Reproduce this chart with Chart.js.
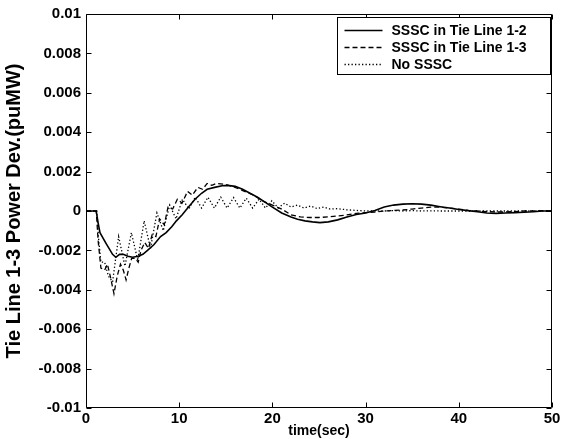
<!DOCTYPE html>
<html>
<head>
<meta charset="utf-8">
<script src="https://cdn.jsdelivr.net/npm/chart.js@4.4.1/dist/chart.umd.min.js"></script>
<style>
  html, body { margin: 0; padding: 0; background: #fff; }
  #c { display: block; }
</style>
</head>
<body>
<canvas id="c" width="576" height="439"></canvas>
<script>
// ---- data ----
const seriesLabels = ['SSSC in Tie Line 1-2', 'SSSC in Tie Line 1-3', 'No SSSC'];

const tSolid = [0,1.1,1.3,1.5,2.1,2.85,3.2,3.6,4.0,4.5,5.0,5.6,6.1,6.6,7.3,8.0,8.6,9.2,9.7,10.3,11.0,11.7,12.4,13.0,13.8,14.6,15.2,16.0,16.8,17.6,18.4,19.2,20.0,21.0,22.0,22.7,23.5,24.3,25.1,26.0,27.0,28.0,29.0,30.0,31.0,32.0,33.0,34.0,35.0,36.0,37.0,38.0,39.0,40.0,41.0,42.0,43.0,44.0,45.0,46.0,47.0,48.0,49.0,50.0];
const vSolid = [0,0,-0.0006,-0.0011,-0.0016,-0.0022,-0.00235,-0.0022,-0.0022,-0.0023,-0.00235,-0.0023,-0.0022,-0.002,-0.0017,-0.0013,-0.0011,-0.0008,-0.0005,-0.0002,0.0002,0.0006,0.0009,0.0011,0.0012,0.00128,0.0013,0.00125,0.0011,0.0009,0.0007,0.00045,0.0002,-0.0001,-0.0003,-0.00042,-0.0005,-0.00055,-0.00059,-0.00055,-0.00045,-0.0003,-0.00018,-0.0001,0.00003,0.0002,0.0003,0.00035,0.00037,0.00035,0.0003,0.00022,0.00015,0.00008,0.00002,-0.00004,-0.0001,-0.00012,-0.0001,-0.00008,-0.00006,-0.00004,0,0];

const tDashed = [0,1.1,1.3,1.6,2.0,2.3,2.6,3.0,3.35,3.7,4.0,4.3,4.6,4.9,5.3,5.6,5.9,6.3,6.7,7.1,7.5,7.9,8.4,8.8,9.3,9.8,10.3,10.9,11.4,12.0,12.5,13.0,13.5,14.0,15.0,16.0,17.0,18.0,19.0,20.0,21.0,22.0,23.0,24.0,25.0,26.0,27.0,28.0,29.0,30.0,31.0,32.0,33.0,34.0,35.0,36.0,37.0,38.0,39.0,40.0,41.0,42.0,43.0,44.0,45.0,46.0,47.0,48.0,49.0,50.0];
const vDashed = [0,0,-0.0015,-0.0029,-0.003,-0.0027,-0.0033,-0.0042,-0.0033,-0.0027,-0.003,-0.0035,-0.0029,-0.0024,-0.0024,-0.0026,-0.002,-0.0016,-0.0019,-0.0012,-0.0013,-0.0004,-0.0007,0.0002,0.0001,0.0006,0.0004,0.001,0.0008,0.0012,0.0011,0.0014,0.0013,0.0014,0.00135,0.0012,0.001,0.0008,0.0005,0.0003,0.0001,-0.0002,-0.0003,-0.00033,-0.00033,-0.0003,-0.00025,-0.0002,-0.00012,-0.00008,-0.00005,0,0.00003,0.00005,0.0001,0.00015,0.0002,0.0002,0.00015,0.0001,0.00003,0,-0.00003,-0.00005,-0.00005,-0.00003,0,0,0.00002,0];

const tDotted = [0,1.15,1.35,1.6,2.0,2.4,2.85,3.5,4.18,4.87,5.55,6.24,6.92,7.61,8.29,8.98,9.66,10.35,11.03,11.72,12.4,13.09,13.77,14.46,15.14,15.83,16.51,17.2,17.88,18.57,19.25,19.94,20.62,21.31,22.0,22.7,23.4,24.1,24.8,25.5,26.2,27,28,29,30,31,32,33,34,35,36,37,38,40,42,44,46,48,50];
const vDotted = [0,0,-0.0014,-0.0026,-0.0026,-0.0033,-0.0036,-0.0013,-0.0028,-0.0011,-0.0025,-0.0005,-0.0019,-0.0001,-0.001,0.0003,-0.0004,0.0006,0.0001,0.0007,0.00015,0.0007,0.00015,0.0007,0.00015,0.00068,0.00015,0.00065,0.00015,0.0006,0.00015,0.00052,0.00015,0.0004,0.0002,0.0003,0.00015,0.00025,0.00012,0.0002,0.0001,0.00012,0.00006,0.00003,0,0.00001,0,0.00002,0,0.00002,0,0.00001,0,0,0,0,0,0,0];

const xTickValues = [0,10,20,30,40,50];
const yTickValues = [-0.01,-0.008,-0.006,-0.004,-0.002,0,0.002,0.004,0.006,0.008,0.01];
const yTickLabels = ['-0.01','-0.008','-0.006','-0.004','-0.002','0','0.002','0.004','0.006','0.008','0.01'];
const xTitle = 'time(sec)';
const yTitle = 'Tie Line 1-3 Power Dev.(puMW)';

// ---- helpers ----
const FONT = '"Liberation Sans", Arial, Helvetica, sans-serif';
const toPts = (t, v) => t.map((x, i) => ({ x: x, y: v[i] }));

const styles = [
  { borderDash: [], borderWidth: 1.6 },
  { borderDash: [5, 3], borderWidth: 1.3 },
  { borderDash: [1.3, 2.2], borderWidth: 1.3 }
];

const framePlugin = {
  id: 'frame',
  afterDatasetsDraw(chart) {
    const { ctx, chartArea: a, scales: { x, y } } = chart;
    const L = Math.round(a.left) + 0.5, R = Math.round(a.right) - 0.5;
    const T = Math.round(a.top) + 0.5, B = Math.round(a.bottom) - 0.5;
    ctx.save();
    ctx.strokeStyle = '#000';
    ctx.lineWidth = 1;
    ctx.setLineDash([]);
    ctx.beginPath();
    xTickValues.forEach(v => {
      const px = Math.round(x.getPixelForValue(v)) + 0.5;
      ctx.moveTo(px, B); ctx.lineTo(px, B - 5);
      ctx.moveTo(px, T); ctx.lineTo(px, T + 5);
    });
    yTickValues.forEach(v => {
      const py = Math.round(y.getPixelForValue(v)) + 0.5;
      ctx.moveTo(L, py); ctx.lineTo(L + 5, py);
      ctx.moveTo(R, py); ctx.lineTo(R - 5, py);
    });
    ctx.rect(L, T, R - L, B - T);
    ctx.stroke();
    ctx.restore();
  }
};

const legendPlugin = {
  id: 'boxLegend',
  afterDraw(chart) {
    const { ctx, chartArea: a } = chart;
    const w = 213, h = 57;
    const left = Math.round(a.right) - 2 - w + 0.5;
    const top = Math.round(a.top) + 3 + 0.5;
    ctx.save();
    ctx.fillStyle = '#fff';
    ctx.fillRect(left, top, w, h);
    ctx.strokeStyle = '#000';
    ctx.lineWidth = 1;
    ctx.setLineDash([]);
    ctx.strokeRect(left, top, w, h);
    ctx.font = 'bold 14px ' + FONT;
    ctx.textBaseline = 'middle';
    ctx.fillStyle = '#000';
    chart.data.datasets.forEach((ds, i) => {
      const ry = Math.round(top + 12 + i * 17) + 0.5;
      ctx.beginPath();
      ctx.setLineDash(ds.borderDash || []);
      ctx.lineWidth = ds.borderWidth;
      ctx.moveTo(left + 7, ry);
      ctx.lineTo(left + 45, ry);
      ctx.stroke();
      ctx.setLineDash([]);
      ctx.fillText(ds.label, left + 54, ry + 1);
    });
    ctx.restore();
  }
};

const datasets = [toPts(tSolid, vSolid), toPts(tDashed, vDashed), toPts(tDotted, vDotted)].map((pts, i) => ({
  label: seriesLabels[i],
  data: pts,
  borderColor: '#000',
  backgroundColor: '#000',
  borderWidth: styles[i].borderWidth,
  borderDash: styles[i].borderDash,
  pointRadius: 0,
  tension: 0,
  fill: false
}));

new Chart(document.getElementById('c'), {
  type: 'line',
  data: { datasets: datasets },
  options: {
    responsive: false,
    animation: false,
    devicePixelRatio: 1,
    layout: { padding: { left: 0, right: 24, top: 14, bottom: 0 } },
    scales: {
      x: {
        type: 'linear',
        min: 0, max: 50,
        afterBuildTicks: s => { s.ticks = xTickValues.map(v => ({ value: v })); },
        afterFit: s => { s.height = 31; },
        grid: { display: false, drawTicks: false },
        border: { display: false },
        ticks: {
          color: '#000', padding: 2,
          font: { family: FONT, size: 15, weight: 'bold' },
          maxRotation: 0, autoSkip: false,
          callback: v => String(v)
        },
        title: {
          display: true, text: xTitle, color: '#000',
          font: { family: FONT, size: 14, weight: 'bold' },
          padding: { top: 0, bottom: -1 }
        }
      },
      y: {
        type: 'linear',
        min: -0.01, max: 0.01,
        afterBuildTicks: s => { s.ticks = yTickValues.map(v => ({ value: v })); },
        afterFit: s => { s.width = 86; },
        grid: { display: false, drawTicks: false },
        border: { display: false },
        ticks: {
          color: '#000', padding: 5,
          font: { family: FONT, size: 15, weight: 'bold' },
          autoSkip: false,
          callback: (v, i) => yTickLabels[i]
        },
        title: {
          display: true, text: yTitle, color: '#000',
          font: { family: FONT, size: 20, weight: 'bold' },
          padding: { top: 2, bottom: 0 }
        }
      }
    },
    plugins: { legend: { display: false }, tooltip: { enabled: false } }
  },
  plugins: [framePlugin, legendPlugin]
});
</script>
</body>
</html>
